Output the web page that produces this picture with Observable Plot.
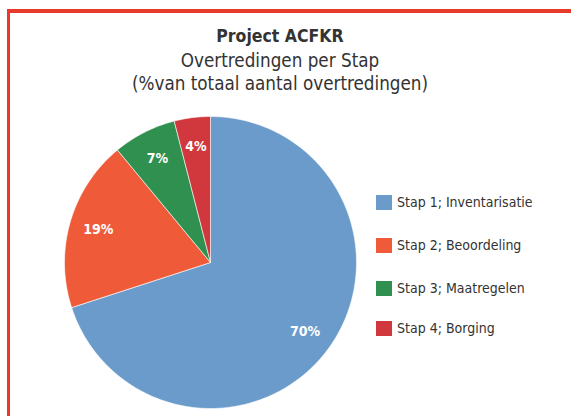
<!DOCTYPE html>
<html>
<head>
<meta charset="utf-8">
<script src="https://cdn.jsdelivr.net/npm/d3@7"></script>
<script src="https://cdn.jsdelivr.net/npm/@observablehq/plot@0.6"></script>
<style>
  html, body { margin: 0; padding: 0; background: #fff; }
  #wrap { position: relative; width: 571px; height: 416px; overflow: hidden;
          font-family: "DejaVu Sans Condensed", "Liberation Sans Narrow", sans-serif; color: #333; }
  #frame { position: absolute; left: 7px; top: 9px; width: 600px; height: 500px;
           border-top: 4px solid #e8392d; border-left: 3px solid #e8392d; }
  .t { position: absolute; left: 0; width: 560px; text-align: center; font-size: 18.7px; line-height: 1; white-space: nowrap; }
  #chart { position: absolute; left: 0; top: 0; }
  .leg { position: absolute; left: 376px; font-size: 14px; line-height: 15px; white-space: nowrap; }
  .leg span.sw { display: inline-block; width: 16px; height: 15px; vertical-align: top; margin-right: 5px; }
</style>
</head>
<body>
<div id="wrap">
  <div id="frame"></div>
  <div class="t" style="top:28px;font-weight:bold;font-size:17.5px;">Project ACFKR</div>
  <div class="t" style="top:52px;">Overtredingen per Stap</div>
  <div class="t" style="top:75px;">(%van totaal aantal overtredingen)</div>
  <div id="chart"></div>
  <div id="legend"></div>
</div>
<script>
const categories = ["Stap 1; Inventarisatie", "Stap 2; Beoordeling", "Stap 3; Maatregelen", "Stap 4; Borging"];
const values = [70, 19, 7, 4];
const labels = ["70%", "19%", "7%", "4%"];
const colors = ["#6a9bcb", "#ef5b39", "#2f9050", "#d0383e"];

const data = categories.map((c, i) => ({cat: c, value: values[i], label: labels[i]}));
const arcs = d3.pie().sort(null).value(d => d.value)(data);

// polygon outline of each slice, in unit-circle coordinates (clockwise from 12 o'clock)
const pts = [];
for (const a of arcs) {
  const n = Math.max(2, Math.ceil((a.endAngle - a.startAngle) / (Math.PI / 180)));
  pts.push({cat: a.data.cat, x: 0, y: 0});
  for (let k = 0; k <= n; k++) {
    const t = a.startAngle + (a.endAngle - a.startAngle) * k / n;
    pts.push({cat: a.data.cat, x: Math.sin(t), y: Math.cos(t)});
  }
  pts.push({cat: a.data.cat, x: 0, y: 0});
}
const lab = arcs.map(a => {
  const m = (a.startAngle + a.endAngle) / 2;
  const r = 0.8;
  return {label: a.data.label, x: r * Math.sin(m), y: r * Math.cos(m)};
});

const chart = Plot.plot({
  width: 571, height: 416,
  margin: 0,
  x: {domain: [-1, 1], range: [64, 356], axis: null},
  y: {domain: [1, -1], range: [116, 408], axis: null},
  color: {domain: categories, range: colors},
  style: {background: "transparent", overflow: "visible"},
  marks: [
    Plot.line(pts, {x: "x", y: "y", z: "cat", fill: "cat", stroke: "white", strokeWidth: 0.6, curve: "linear"}),
    Plot.text(lab, {x: "x", y: "y", text: "label", fill: "white", fontSize: 14, fontWeight: 600,
      fontFamily: "DejaVu Sans Condensed, sans-serif"})
  ]
});
document.getElementById("chart").appendChild(chart);

const legendTops = [195, 238, 281, 321];
const leg = document.getElementById("legend");
categories.forEach((c, i) => {
  const div = document.createElement("div");
  div.className = "leg";
  div.style.top = legendTops[i] + "px";
  div.innerHTML = `<span class="sw" style="background:${colors[i]}"></span>${c}`;
  leg.appendChild(div);
});
</script>
</body>
</html>
